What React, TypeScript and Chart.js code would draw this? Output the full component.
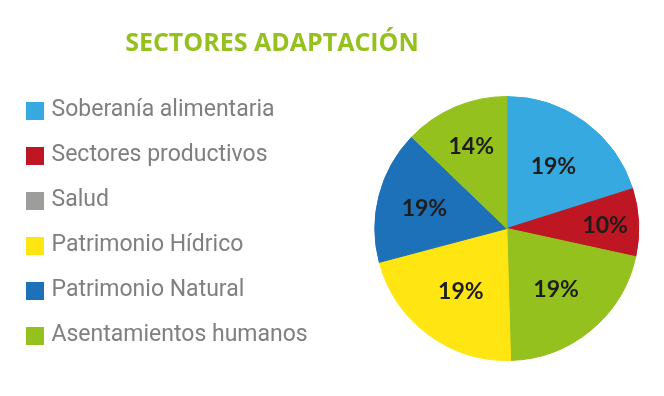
import React, { useEffect, useRef } from 'react';
import { Chart, registerables } from 'chart.js';

Chart.register(...registerables);

// Legend categories and colours
const categories = [
  'Soberanía alimentaria',
  'Sectores productivos',
  'Salud',
  'Patrimonio Hídrico',
  'Patrimonio Natural',
  'Asentamientos humanos',
];
const categoryColors = ['#36a9e1', '#be1622', '#9d9d9c', '#ffe512', '#1d71b8', '#95c11f'];

// Pie slices, clockwise from 12 o'clock
const sliceCategory = [0, 1, 5, 3, 4, 5];
const sliceShares = [20.1, 8.3, 21.1, 21.3, 16.3, 12.8];
const slicePercentLabels = [19, 10, 19, 19, 19, 14];

const titleText = 'SECTORES ADAPTACIÓN';

function makeSwatch(color: string) {
  const c = document.createElement('canvas');
  c.width = 18;
  c.height = 18;
  const g = c.getContext('2d');
  if (g) {
    g.fillStyle = color;
    g.fillRect(0, 0, 18, 18);
  }
  return c;
}

const percentLabelPlugin = {
  id: 'percentLabels',
  afterDatasetsDraw(chart: any) {
    const ctx = chart.ctx;
    const meta = chart.getDatasetMeta(0);
    ctx.save();
    ctx.font = 'bold 23px Lato';
    ctx.fillStyle = '#1d1d1b';
    ctx.textAlign = 'center';
    ctx.textBaseline = 'alphabetic';
    meta.data.forEach((arc: any, i: number) => {
      const { x, y, startAngle, endAngle, outerRadius } = arc.getProps(
        ['x', 'y', 'startAngle', 'endAngle', 'outerRadius'],
        true
      );
      const span = endAngle - startAngle;
      const mid = (startAngle + endAngle) / 2;
      const r = outerRadius * (0.85 - 0.2 * span);
      ctx.fillText(slicePercentLabels[i] + '%', x + Math.cos(mid) * r, y + Math.sin(mid) * r + 9);
    });
    ctx.restore();
  },
};

export default function App() {
  const canvasRef = useRef<HTMLCanvasElement | null>(null);

  useEffect(() => {
    if (!canvasRef.current) return;
    const colors = sliceCategory.map((c) => categoryColors[c]);
    const swatches = categoryColors.map(makeSwatch);
    const chart = new Chart(canvasRef.current, {
      type: 'pie',
      data: {
        labels: sliceCategory.map((c) => categories[c]),
        datasets: [
          {
            data: sliceShares,
            backgroundColor: colors,
            borderColor: colors,
            borderWidth: 1,
            hoverOffset: 0,
          },
        ],
      },
      options: {
        animation: false,
        responsive: true,
        maintainAspectRatio: false,
        radius: 132,
        events: [],
        layout: { padding: { top: 77, bottom: 16, left: 8, right: 0 } },
        plugins: {
          tooltip: { enabled: false },
          title: { display: false },
          legend: {
            display: true,
            position: 'left',
            align: 'start',
            labels: {
              font: { family: 'Roboto', size: 23 },
              color: '#7f7f7f',
              usePointStyle: true,
              pointStyleWidth: 10,
              boxHeight: 18,
              padding: 22,
              generateLabels: () =>
                categories.map((text, i) => ({
                  text,
                  fillStyle: categoryColors[i],
                  strokeStyle: categoryColors[i],
                  pointStyle: swatches[i],
                  lineWidth: 0,
                  hidden: false,
                  index: i,
                  fontColor: '#7f7f7f',
                })),
            },
          },
        },
      } as any,
      plugins: [percentLabelPlugin],
    });
    return () => chart.destroy();
  }, []);

  return (
    <div style={{ position: 'absolute', left: 0, top: 0, width: 664, height: 396, overflow: 'hidden', background: '#fff' }}>
      <div style={{ position: 'absolute', left: 0, top: 0, width: 696, height: 396 }}>
        <canvas ref={canvasRef} />
      </div>
      <div
        style={{
          position: 'absolute',
          left: 0,
          width: 544,
          top: 29,
          textAlign: 'center',
          fontFamily: '"Open Sans"',
          fontWeight: 700,
          fontSize: 25,
          lineHeight: '25px',
          color: '#95c11f',
          whiteSpace: 'nowrap',
        }}
      >
        {titleText}
      </div>
    </div>
  );
}
